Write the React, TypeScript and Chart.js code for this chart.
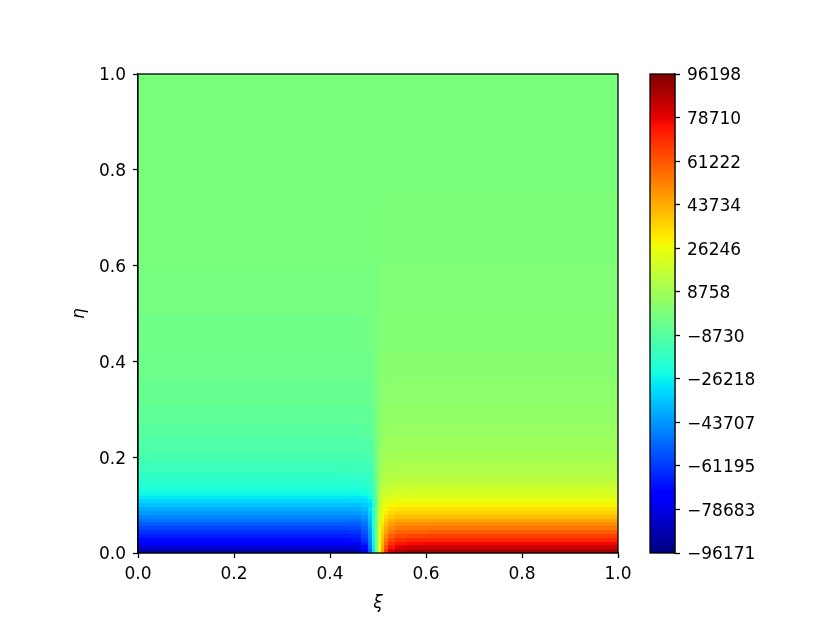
import React, { useEffect, useRef } from "react";
import { Chart, registerables } from "chart.js";

Chart.register(...registerables);

// ---------------- data ----------------
// cell edges along ξ (columns) and η (rows)
const xiEdges = [0, 0.2, 0.38, 0.44, 0.465, 0.48, 0.488, 0.494, 0.5, 0.506, 0.512, 0.52, 0.535, 0.56, 0.6, 0.7, 1.0];
const etaEdges = [
  0, 0.008, 0.016, 0.024, 0.032, 0.04, 0.048, 0.056, 0.064, 0.072, 0.08, 0.088, 0.096, 0.104, 0.112, 0.12,
  0.13, 0.14, 0.155, 0.17, 0.19, 0.21, 0.24, 0.27, 0.31, 0.36, 0.42, 0.5, 0.6, 0.75, 1.0,
];
// field values in thousands, one row per η band (bottom row first), one entry per ξ band
const fieldThousands: number[][] = [
  [-89.5, -89.5, -89.5, -88.5, -77, -54, -28, 0, 25, 46, 67, 81, 87, 89.5, 89.5, 89.5],
  [-80.8, -80.8, -80.8, -80, -70, -50, -27, 0, 25, 44, 62, 75, 80, 82.5, 82.7, 82.7],
  [-75, -75, -75, -74, -66, -48, -26, 0, 24, 42, 58, 69, 74, 76.5, 76.9, 76.9],
  [-70.2, -70.2, -70.2, -69.4, -62, -46, -25, 0, 23, 40, 54, 64, 69, 70.8, 71.2, 71.2],
  [-66.4, -66.4, -66.4, -65.6, -59, -44, -24, 0, 22, 38, 50, 59, 63.5, 65, 65.4, 65.4],
  [-62.5, -62.5, -62.5, -61.8, -56, -42, -23, 0, 21, 36, 46, 54, 58, 59.3, 59.6, 59.6],
  [-58.7, -58.7, -58.7, -58, -53, -40, -22, 0, 20, 34, 43, 50, 53.5, 54.5, 54.8, 54.8],
  [-54.8, -54.8, -54.8, -54.2, -50, -38, -21, 0, 19, 32, 40, 46, 49, 49.8, 50, 50],
  [-51, -51, -51, -50.4, -47, -36, -20.5, -0.5, 18, 30, 37, 42, 44.5, 45, 45.2, 45.2],
  [-47.1, -47.1, -47.1, -46.6, -43.5, -34, -20, -1, 17, 28, 34, 38, 40, 40.3, 40.4, 40.4],
  [-43.3, -43.3, -43.3, -42.9, -40, -32, -19, -1, 16, 26, 31, 34.5, 36.2, 36.5, 36.6, 36.6],
  [-39.4, -39.4, -39.4, -39.1, -37, -30, -18.5, -1.5, 15, 24, 28.5, 31, 32.4, 32.6, 32.7, 32.7],
  [-35.6, -35.6, -35.6, -35.4, -34.5, -31.3, -22.1, -4.3, 15.9, 23.1, 26.6, 28, 28.6, 28.9, 28.9, 28.9],
  [-31.7, -31.7, -31.7, -31.5, -30.7, -27.9, -19.7, -3.8, 14.3, 20.8, 23.9, 25.2, 25.7, 26, 26, 26],
  [-27.9, -27.9, -27.9, -27.8, -27.1, -24.6, -17.3, -3.3, 12.7, 18.5, 21.3, 22.4, 22.9, 23.1, 23.1, 23.1],
  [-25, -25, -25, -24.9, -24.3, -22, -15.5, -3, 11.7, 17, 19.5, 20.6, 21, 21.2, 21.2, 21.2],
  [-22.1, -22.1, -22.1, -22, -21.4, -19.4, -13.7, -2.7, 10.6, 15.4, 17.7, 18.6, 19, 19.2, 19.2, 19.2],
  [-19.2, -19.2, -19.2, -19.1, -18.6, -16.9, -11.9, -2.3, 8.5, 12.3, 14.2, 14.9, 15.2, 15.4, 15.4, 15.4],
  [-17.3, -17.3, -17.3, -17.2, -16.8, -15.2, -10.7, -2.1, 7.4, 10.8, 12.4, 13.1, 13.4, 13.5, 13.5, 13.5],
  [-15, -15, -15, -14.9, -14.6, -13.2, -9.3, -1.8, 6.3, 9.2, 10.6, 11.2, 11.4, 11.5, 11.5, 11.5],
  [-12.5, -12.5, -12.5, -12.4, -12.1, -11, -7.8, -1.5, 5.3, 7.7, 8.8, 9.3, 9.5, 9.6, 9.6, 9.6],
  [-10.5, -10.5, -10.5, -10.4, -10.2, -9.2, -6.5, -1.3, 4.4, 6.4, 7.4, 7.8, 7.9, 8, 8, 8],
  [-8.5, -8.5, -8.5, -8.5, -8.2, -7.5, -5.3, -1, 3.6, 5.2, 6, 6.3, 6.4, 6.5, 6.5, 6.5],
  [-6.7, -6.7, -6.7, -6.7, -6.5, -5.9, -4.2, -0.8, 2.9, 4.2, 4.8, 5, 5.1, 5.2, 5.2, 5.2],
  [-5, -5, -5, -5, -4.9, -4.4, -3.1, -0.6, 2.2, 3.2, 3.7, 3.9, 4, 4, 4, 4],
  [-3.5, -3.5, -3.5, -3.5, -3.4, -3.1, -2.2, -0.4, 1.6, 2.3, 2.7, 2.8, 2.9, 2.9, 2.9, 2.9],
  [-2.3, -2.3, -2.3, -2.3, -2.2, -2, -1.4, -0.3, 1, 1.5, 1.7, 1.8, 1.9, 1.9, 1.9, 1.9],
  [-1.3, -1.3, -1.3, -1.3, -1.3, -1.1, -0.8, -0.2, 0.6, 0.9, 1, 1.1, 1.1, 1.1, 1.1, 1.1],
  [-0.5, -0.5, -0.5, -0.5, -0.5, -0.4, -0.3, -0.1, 0.2, 0.3, 0.4, 0.4, 0.4, 0.4, 0.4, 0.4],
  [0, 0, 0, 0, 0, 0, 0, 0, 0, 0, 0, 0, 0, 0, 0, 0],
];
const xiTicks = [0, 0.2, 0.4, 0.6, 0.8, 1.0];
const etaTicks = [0, 0.2, 0.4, 0.6, 0.8, 1.0];
const colorMin = -96171;
const colorMax = 96198;
const colorTicks = [-96171, -78683, -61195, -43707, -26218, -8730, 8758, 26246, 43734, 61222, 78710, 96198];
const xTitle = "ξ";
const yTitle = "η";

// ---------------- colour map (jet) ----------------
const JET: Record<string, number[][]> = {
  r: [[0, 0], [0.35, 0], [0.66, 1], [0.89, 1], [1, 0.5]],
  g: [[0, 0], [0.125, 0], [0.375, 1], [0.64, 1], [0.91, 0], [1, 0]],
  b: [[0, 0.5], [0.11, 1], [0.34, 1], [0.65, 0], [1, 0]],
};
function seg(pts: number[][], t: number) {
  for (let i = 1; i < pts.length; i++) {
    if (t <= pts[i][0]) {
      const [x0, y0] = pts[i - 1];
      const [x1, y1] = pts[i];
      return y0 + ((t - x0) / (x1 - x0)) * (y1 - y0);
    }
  }
  return pts[pts.length - 1][1];
}
function jet(v: number) {
  let t = (v - colorMin) / (colorMax - colorMin);
  t = Math.max(0, Math.min(1, t));
  t = Math.floor(t * 255.999) / 255;
  const r = Math.round(seg(JET.r, t) * 255);
  const g = Math.round(seg(JET.g, t) * 255);
  const b = Math.round(seg(JET.b, t) * 255);
  return `rgb(${r},${g},${b})`;
}

const FONT = "DejaVu Sans";
const W = 830;
const H = 623;

const heatmapPlugin = {
  id: "heatmap",
  beforeDatasetsDraw(chart: any) {
    const { ctx, scales } = chart;
    const xs = scales.x;
    const ys = scales.y;
    ctx.save();
    for (let r = 0; r < fieldThousands.length; r++) {
      const yTop = Math.round(ys.getPixelForValue(etaEdges[r + 1]));
      const yBot = Math.round(ys.getPixelForValue(etaEdges[r]));
      const row = fieldThousands[r];
      for (let c = 0; c < row.length; c++) {
        const x0 = Math.round(xs.getPixelForValue(xiEdges[c]));
        const x1 = Math.round(xs.getPixelForValue(xiEdges[c + 1]));
        ctx.fillStyle = jet(row[c] * 1000);
        ctx.fillRect(x0, yTop, x1 - x0, yBot - yTop);
      }
    }
    ctx.restore();
  },
  afterDraw(chart: any) {
    const { ctx, chartArea } = chart;
    ctx.save();
    ctx.strokeStyle = "#000";
    ctx.lineWidth = 1.3;
    ctx.strokeRect(chartArea.left, chartArea.top, chartArea.right - chartArea.left, chartArea.bottom - chartArea.top);
    ctx.fillStyle = "#000";
    ctx.font = `italic 17px "${FONT}"`;
    ctx.textAlign = "center";
    ctx.textBaseline = "middle";
    ctx.fillText(xTitle, (chartArea.left + chartArea.right) / 2, chartArea.bottom + 51);
    ctx.translate(chartArea.left - 58, (chartArea.top + chartArea.bottom) / 2);
    ctx.rotate(-Math.PI / 2);
    ctx.fillText(yTitle, 0, 0);
    ctx.restore();
  },
};

const colorbarPlugin = {
  id: "colorbar",
  beforeDatasetsDraw(chart: any) {
    const { ctx, chartArea, scales } = chart;
    const ys = scales.y;
    ctx.save();
    for (let py = Math.floor(chartArea.top); py < Math.ceil(chartArea.bottom); py++) {
      const v = ys.getValueForPixel(py + 0.5);
      ctx.fillStyle = jet(v);
      ctx.fillRect(chartArea.left, py, chartArea.right - chartArea.left, 1);
    }
    ctx.restore();
  },
  afterDraw(chart: any) {
    const { ctx, chartArea } = chart;
    ctx.save();
    ctx.strokeStyle = "#000";
    ctx.lineWidth = 1.3;
    ctx.strokeRect(chartArea.left, chartArea.top, chartArea.right - chartArea.left, chartArea.bottom - chartArea.top);
    ctx.restore();
  },
};

const tickFont = { family: FONT, size: 17 };
const gridOpts = {
  display: true,
  drawOnChartArea: false,
  drawTicks: true,
  tickLength: 5,
  tickWidth: 1.3,
  tickColor: "#000",
};
const borderOpts = { display: true, color: "#000", width: 1.3 };

function fmtColorTick(v: number) {
  return v < 0 ? "\u2212" + Math.abs(v) : String(v);
}

export default function App() {
  const mainRef = useRef<HTMLCanvasElement>(null);
  const barRef = useRef<HTMLCanvasElement>(null);

  useEffect(() => {
    const main = new Chart(mainRef.current!, {
      type: "scatter",
      data: { datasets: [] },
      options: {
        animation: false,
        responsive: false,
        maintainAspectRatio: false,
        devicePixelRatio: 1,
        layout: { padding: { left: 0, top: 74, right: 212, bottom: 0 } },
        plugins: { legend: { display: false }, tooltip: { enabled: false } },
        scales: {
          x: {
            type: "linear",
            min: 0,
            max: 1,
            position: "bottom",
            afterBuildTicks: (s: any) => {
              s.ticks = xiTicks.map((v) => ({ value: v }));
            },
            afterFit: (s: any) => {
              s.height = 70;
            },
            ticks: {
              font: tickFont,
              color: "#000",
              padding: 6,
              maxRotation: 0,
              autoSkip: false,
              callback: (v: any) => Number(v).toFixed(1),
            },
            grid: gridOpts,
            border: borderOpts,
          },
          y: {
            type: "linear",
            min: 0,
            max: 1,
            position: "left",
            afterBuildTicks: (s: any) => {
              s.ticks = etaTicks.map((v) => ({ value: v }));
            },
            afterFit: (s: any) => {
              s.width = 138;
            },
            ticks: {
              font: tickFont,
              color: "#000",
              padding: 7,
              labelOffset: 2,
              autoSkip: false,
              callback: (v: any) => Number(v).toFixed(1),
            },
            grid: gridOpts,
            border: borderOpts,
          },
        },
      } as any,
      plugins: [heatmapPlugin],
    });

    const bar = new Chart(barRef.current!, {
      type: "scatter",
      data: { datasets: [] },
      options: {
        animation: false,
        responsive: false,
        maintainAspectRatio: false,
        devicePixelRatio: 1,
        layout: { padding: { left: 650, top: 74, right: 0, bottom: 70 } },
        plugins: { legend: { display: false }, tooltip: { enabled: false } },
        scales: {
          x: { type: "linear", display: false, min: 0, max: 1 },
          y: {
            type: "linear",
            position: "right",
            min: colorMin,
            max: colorMax,
            afterBuildTicks: (s: any) => {
              s.ticks = colorTicks.map((v) => ({ value: v }));
            },
            afterFit: (s: any) => {
              s.width = 155;
            },
            ticks: {
              font: tickFont,
              color: "#000",
              padding: 7,
              labelOffset: 2,
              autoSkip: false,
              callback: (v: any) => fmtColorTick(Number(v)),
            },
            grid: gridOpts,
            border: borderOpts,
          },
        },
      } as any,
      plugins: [colorbarPlugin],
    });

    return () => {
      main.destroy();
      bar.destroy();
    };
  }, []);

  const canvasStyle: React.CSSProperties = {
    position: "absolute",
    left: 0,
    top: 0,
    width: W,
    height: H,
    display: "block",
  };

  return (
    <div style={{ position: "absolute", left: 0, top: 0, width: W, height: H, background: "#fff" }}>
      <canvas ref={mainRef} width={W} height={H} style={canvasStyle} />
      <canvas ref={barRef} width={W} height={H} style={canvasStyle} />
    </div>
  );
}
